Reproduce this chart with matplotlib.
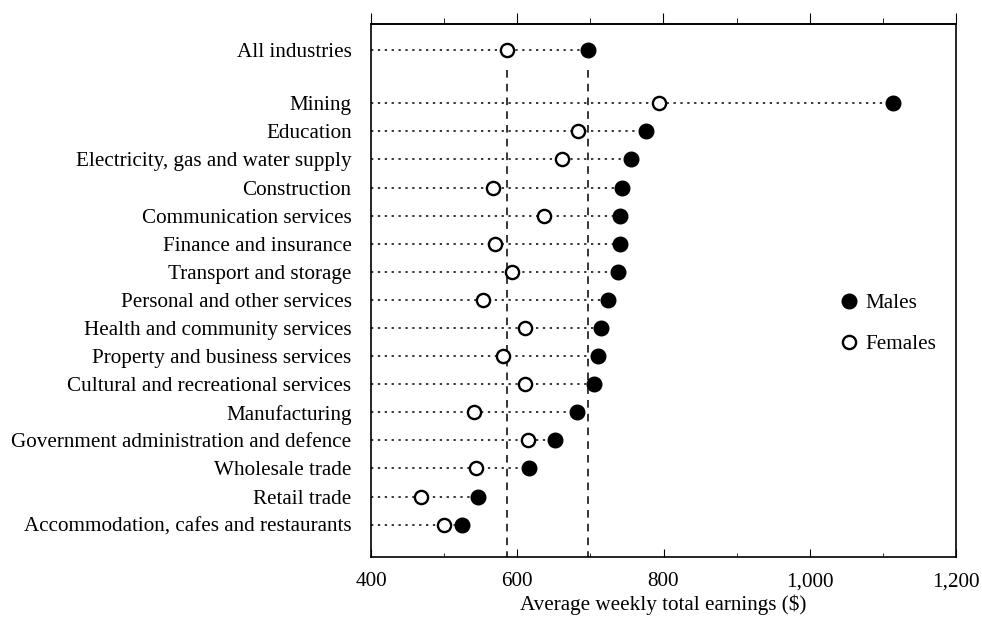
import matplotlib.pyplot as plt
import numpy as np

plt.rcParams['font.family'] = ['Liberation Serif', 'DejaVu Serif']

industries = [
    'All industries',
    'Mining',
    'Education',
    'Electricity, gas and water supply',
    'Construction',
    'Communication services',
    'Finance and insurance',
    'Transport and storage',
    'Personal and other services',
    'Health and community services',
    'Property and business services',
    'Cultural and recreational services',
    'Manufacturing',
    'Government administration and defence',
    'Wholesale trade',
    'Retail trade',
    'Accommodation, cafes and restaurants',
]
males = [697, 1114, 776, 756, 743, 741, 741, 738, 724, 714, 711, 705, 682, 651, 616, 547, 525]
females = [586, 794, 683, 661, 567, 637, 570, 593, 553, 610, 580, 611, 541, 615, 543, 469, 500]

# row positions: gap between "All industries" and the rest
ypos = np.array([-1.9] + list(range(len(industries) - 1)), dtype=float)

fs = 15.2
fig = plt.figure(figsize=(9.82, 6.17), dpi=100)
ax = fig.add_axes([371 / 982, 1 - 557 / 617, 585 / 982, 533 / 617])

# dotted guide lines from the axis to the larger value
ax.hlines(ypos, 400, np.maximum(males, females), colors='black',
          linestyles=(0, (1.5, 3)), linewidth=1.1, zorder=1)

# dashed reference lines at the all-industries values
ax.vlines([females[0], males[0]], -1.2, 16.2, colors='black',
          linestyles=(0, (5, 4)), linewidth=1.1, zorder=1)

ax.plot(males, ypos, 'o', color='black', markersize=10.5, zorder=3, label='Males')
ax.plot(females, ypos, 'o', markerfacecolor='white', markeredgecolor='black',
        markeredgewidth=1.7, markersize=9.5, zorder=3, label='Females')

ax.set_xlim(400, 1200)
ax.set_ylim(16.15, -2.82)
ax.set_yticks(ypos)
ax.set_yticklabels(industries, fontsize=fs)
ax.tick_params(axis='y', length=0, pad=14)

ax.set_xticks([400, 600, 800, 1000, 1200])
ax.set_xticklabels(['400', '600', '800', '1,000', '1,200'], fontsize=fs)
ax.set_xticks([500, 700, 900, 1100], minor=True)
ax.tick_params(axis='x', which='both', direction='in')
ax.tick_params(axis='x', which='major', length=6, pad=11)
ax.tick_params(axis='x', which='minor', length=3)
ax.set_xlabel('Average weekly total earnings ($)', fontsize=fs, labelpad=2)

# top axis: ticks pointing outwards, no labels
top = ax.secondary_xaxis('top')
top.set_xticks([400, 600, 800, 1000, 1200])
top.set_xticks([500, 700, 900, 1100], minor=True)
top.tick_params(axis='x', which='both', direction='out', labeltop=False)
top.tick_params(axis='x', which='major', length=8)
top.tick_params(axis='x', which='minor', length=4)
top.spines['top'].set_linewidth(1.2)

for s in ax.spines.values():
    s.set_linewidth(1.2)

ax.legend(loc='upper left', bbox_to_anchor=(0.77, 0.53), frameon=False,
          fontsize=fs, handlelength=0.8, handletextpad=0.4, labelspacing=1.0)

fig.savefig('out.png', dpi=100)
